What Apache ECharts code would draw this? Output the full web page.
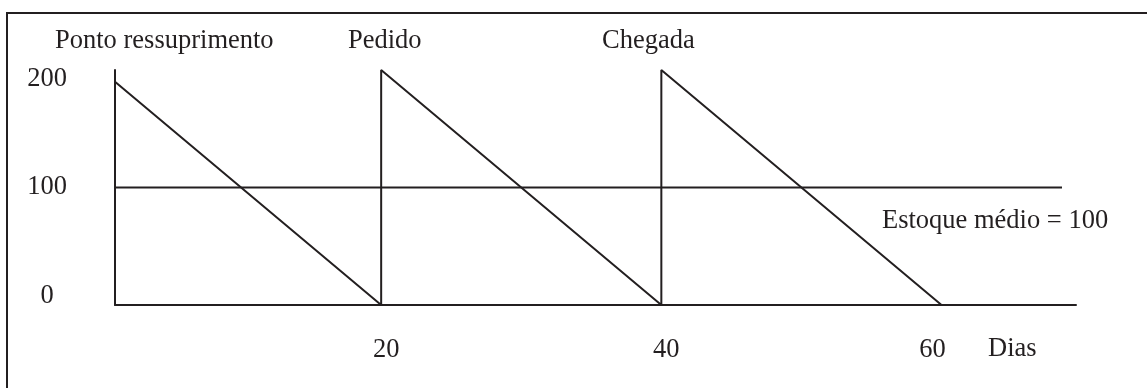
<!DOCTYPE html>
<html>
<head>
<meta charset="utf-8">
<script src="https://cdn.jsdelivr.net/npm/echarts@6/dist/echarts.min.js"></script>
<style>
  html, body { margin: 0; padding: 0; background: #fff; }
  #main { width: 1147px; height: 388px; }
</style>
</head>
<body>
<div id="main"></div>
<script>
// dados do gráfico
var diasEstoque = [1, 20, 20, 40, 40, 60];
var nivelEstoque = [190, 0, 200, 0, 200, 0];
var diasMedio = [1, 68.6];
var nivelMedio = [100, 100];
var xTicks = [20, 40, 60];
var yTicks = [0, 100, 200];

var cor = '#231f20';
var fonte = 'Liberation Serif, Times New Roman, serif';
var tam = 26.5;

var option = {
    animation: false,
    backgroundColor: '#fff',
    grid: {
        left: 115,
        right: 71,
        top: 70,
        bottom: 83
    },
    xAxis: {
        type: 'value',
        min: 1,
        max: 69.6,
        axisLine: { show: true, onZero: false, lineStyle: { color: cor, width: 2 } },
        axisTick: { show: false },
        splitLine: { show: false },
        axisLabel: {
            customValues: xTicks,
            margin: 32,
            color: cor,
            fontFamily: fonte,
            fontSize: tam,
            formatter: function (v) {
                return v === 60 ? '{l|' + v + '}' : '{r|' + v + '}';
            },
            rich: {
                r: { fontFamily: fonte, fontSize: tam, color: cor, padding: [0, 0, 0, 10] },
                l: { fontFamily: fonte, fontSize: tam, color: cor, padding: [0, 18, 0, 0] }
            }
        }
    },
    yAxis: {
        type: 'value',
        min: 0,
        max: 200,
        axisLine: { show: true, onZero: false, lineStyle: { color: cor, width: 2 } },
        axisTick: { show: false },
        splitLine: { show: false },
        axisLabel: {
            customValues: yTicks,
            margin: 68,
            align: 'center',
            color: cor,
            fontFamily: fonte,
            fontSize: tam,
            formatter: function (v) {
                if (v === 200) return '{b|' + v + '}';
                if (v === 0) return '{t|' + v + '}';
                return '{m|' + v + '}';
            },
            rich: {
                b: { fontFamily: fonte, fontSize: tam, color: cor, padding: [18, 0, 0, 0] },
                t: { fontFamily: fonte, fontSize: tam, color: cor, padding: [0, 0, 18, 0] },
                m: { fontFamily: fonte, fontSize: tam, color: cor }
            }
        }
    },
    series: [
        {
            name: 'Estoque',
            type: 'line',
            symbol: 'none',
            lineStyle: { color: cor, width: 2 },
            data: diasEstoque.map(function (d, i) { return [d, nivelEstoque[i]]; })
        },
        {
            name: 'Estoque médio',
            type: 'line',
            symbol: 'none',
            lineStyle: { color: cor, width: 2 },
            data: diasMedio.map(function (d, i) { return [d, nivelMedio[i]]; })
        }
    ],
    graphic: [
        // moldura (só topo e esquerda aparecem)
        {
            type: 'rect',
            shape: { x: 7, y: 13, width: 1300, height: 500 },
            style: { fill: null, stroke: cor, lineWidth: 2 },
            silent: true
        },
        {
            type: 'text', x: 55, y: 41,
            style: { text: 'Ponto ressuprimento', fill: cor, font: tam + 'px ' + fonte, verticalAlign: 'middle' }
        },
        {
            type: 'text', x: 348, y: 41,
            style: { text: 'Pedido', fill: cor, font: tam + 'px ' + fonte, verticalAlign: 'middle' }
        },
        {
            type: 'text', x: 602, y: 41,
            style: { text: 'Chegada', fill: cor, font: tam + 'px ' + fonte, verticalAlign: 'middle' }
        },
        {
            type: 'text', x: 882, y: 221,
            style: { text: 'Estoque médio = 100', fill: cor, font: tam + 'px ' + fonte, verticalAlign: 'middle' }
        },
        {
            type: 'text', x: 988, y: 349,
            style: { text: 'Dias', fill: cor, font: tam + 'px ' + fonte, verticalAlign: 'middle' }
        }
    ]
};

var myChart = echarts.init(document.getElementById('main'));
myChart.setOption(option);
</script>
</body>
</html>
